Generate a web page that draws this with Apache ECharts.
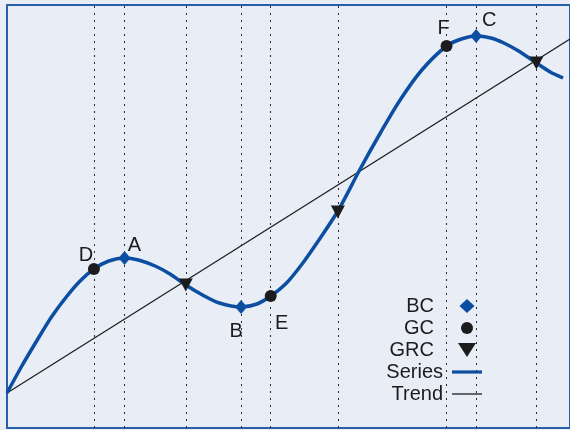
<!DOCTYPE html>
<html>
<head>
<meta charset="utf-8">
<script src="https://cdn.jsdelivr.net/npm/echarts@6/dist/echarts.min.js"></script>
<style>
html,body{margin:0;padding:0;background:#e8edf6;}
#chart{width:570px;height:430px;}
</style>
</head>
<body>
<div id="chart"></div>
<script>
// Series curve (x = time index, y = level)
const seriesX = [0, 15, 30, 45, 60, 74, 88, 103, 119, 133, 150, 165, 181, 198, 215, 237, 253, 267, 283, 298, 313, 335, 357, 378, 398, 420, 445, 460, 475, 490, 503, 518, 536, 550, 563];
const seriesY = [35, 62, 87, 111, 131, 147, 159, 167, 170, 168, 162, 154, 143, 133, 125, 121, 124, 132, 145, 163, 184, 217, 258, 295, 328, 358, 382, 389, 392, 390, 385, 377, 365, 356, 350];
// Trend line endpoints
const trendX = [0, 570];
const trendY = [35, 389];
// Business cycle turning points (diamonds)
const bcNames = ['A', 'B', 'C'];
const bcX = [119, 237, 475];
const bcY = [170, 121, 392];
// Growth cycle turning points (circles)
const gcNames = ['D', 'E', 'F'];
const gcX = [88, 267, 445];
const gcY = [159, 132, 382];
// Growth rate cycle turning points (triangles)
const grcX = [181, 335, 536];
const grcY = [143, 216, 365];
// Vertical reference lines
const vlines = [88, 119, 181, 237, 267, 335, 445, 475, 536];

// label offsets (style)
const bcOffsets = [[10, -13], [-5, 24], [13, -16]];
const gcOffsets = [[-8, -14], [11, 27], [-3, -18]];

const BLUE = '#0b4ea2';
const DARK = '#1c1c1c';
const FONT = 'Liberation Sans, Arial, sans-serif';

const chart = echarts.init(document.getElementById('chart'), null, {renderer: 'canvas'});

function pts(xs, ys) { return xs.map((x, i) => [x, ys[i]]); }
function labeled(xs, ys, names, offs) {
  return xs.map((x, i) => ({
    value: [x, ys[i]],
    name: names[i],
    label: {show: true, position: 'inside', offset: offs[i], formatter: names[i]}
  }));
}

const option = {
  animation: false,
  backgroundColor: '#e8edf6',
  grid: {
    show: true, left: 7, top: 5, width: 570, height: 423,
    borderColor: '#2b5eaa', borderWidth: 2, backgroundColor: 'transparent'
  },
  xAxis: {
    type: 'value', min: 0, max: 570,
    axisLine: {show: false}, axisTick: {show: false}, axisLabel: {show: false}, splitLine: {show: false}
  },
  yAxis: {
    type: 'value', min: 0, max: 423,
    axisLine: {show: false}, axisTick: {show: false}, axisLabel: {show: false}, splitLine: {show: false}
  },
  legend: {
    orient: 'vertical', align: 'right', right: 88, top: 296, padding: 0,
    itemWidth: 30, itemHeight: 14, itemGap: 2,
    itemStyle: {borderWidth: 0, opacity: 1},
    textStyle: {fontFamily: FONT, fontSize: 20, color: DARK, lineHeight: 20},
    data: [
      {name: 'BC', icon: 'path://M7,0L14,6.5L7,13L0,6.5Z', textStyle: {padding: [0, 13, 0, 0]}},
      {name: 'GC', icon: 'path://M0,6A6,6,0,1,1,12,6A6,6,0,1,1,0,6Z M-1,-1 M13,13', textStyle: {padding: [0, 13, 0, 0]}},
      {name: 'GRC', icon: 'path://M0,0L18,0L9,14Z', textStyle: {padding: [0, 13, 0, 0]}},
      {name: 'Series', icon: 'path://M0,0L30,0L30,3.2L0,3.2Z', textStyle: {padding: [0, 4, 0, 0]}},
      {name: 'Trend', icon: 'path://M0,0L30,0L30,1.3L0,1.3Z', textStyle: {padding: [0, 4, 0, 0]}}
    ]
  },
  series: [
    {
      name: 'Trend', type: 'line', z: 2,
      data: pts(trendX, trendY),
      symbol: 'none', showSymbol: false,
      lineStyle: {color: DARK, width: 1.2},
      itemStyle: {color: DARK},
      markLine: {
        silent: true, symbol: ['none', 'none'],
        label: {show: false},
        lineStyle: {color: '#2a2a2a', width: 1, type: [2, 5]},
        data: vlines.map(v => ({xAxis: v}))
      }
    },
    {
      name: 'Series', type: 'line', z: 3,
      data: pts(seriesX, seriesY),
      smooth: 0.3, symbol: 'none', showSymbol: false,
      lineStyle: {color: BLUE, width: 3.5},
      itemStyle: {color: BLUE}
    },
    {
      name: 'BC', type: 'scatter', z: 5,
      symbol: 'diamond', symbolSize: [12, 14],
      itemStyle: {color: BLUE, opacity: 1},
      label: {fontFamily: FONT, fontSize: 20, color: DARK},
      data: labeled(bcX, bcY, bcNames, bcOffsets)
    },
    {
      name: 'GC', type: 'scatter', z: 5,
      symbol: 'circle', symbolSize: 12,
      itemStyle: {color: DARK, opacity: 1},
      label: {fontFamily: FONT, fontSize: 20, color: DARK},
      data: labeled(gcX, gcY, gcNames, gcOffsets)
    },
    {
      name: 'GRC', type: 'scatter', z: 5,
      symbol: 'path://M0,0L10,0L5,9Z', symbolSize: [14, 13],
      itemStyle: {color: DARK, opacity: 1},
      data: pts(grcX, grcY)
    }
  ]
};
chart.setOption(option);
</script>
</body>
</html>
